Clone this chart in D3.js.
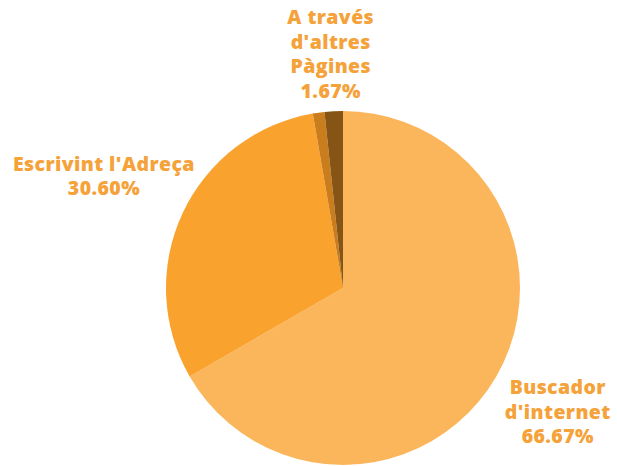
<!DOCTYPE html>
<html>
<head>
<meta charset="utf-8">
<script src="https://cdn.jsdelivr.net/npm/d3@7"></script>
<style>
  html, body { margin: 0; padding: 0; background: #ffffff; }
  svg { display: block; }
</style>
</head>
<body>
<svg id="chart" width="617" height="466"></svg>
<script>
// Data
const categories = ["Buscador d'internet", "Escrivint l'Adreça", "Altres", "A través d'altres Pàgines"];
const values = [66.67, 30.60, 1.06, 1.67];
const labelLines = [
  ["Buscador", "d'internet", "66.67%"],
  ["Escrivint l'Adreça", "30.60%"],
  null,
  ["A través", "d'altres", "Pàgines", "1.67%"]
];
const colors = ["#FBB55B", "#F9A22E", "#C97D1C", "#865516"];

const svg = d3.select("#chart");
const cx = 343, cy = 288, r = 177;
const g = svg.append("g").attr("transform", `translate(${cx},${cy})`);

const data = categories.map((c, i) => ({ cat: c, value: values[i], lines: labelLines[i], color: colors[i] }));
const pie = d3.pie().sort(null).value(d => d.value);
const arc = d3.arc().innerRadius(0).outerRadius(r);
const arcs = pie(data);

g.selectAll("path.slice").data(arcs).join("path")
  .attr("class", "slice")
  .attr("d", arc)
  .attr("fill", d => d.data.color);

const labelRadius = [248, 264, 0, 234];
const lineH = 24.5;
arcs.forEach((a, i) => {
  if (!a.data.lines) return;
  const mid = (a.startAngle + a.endAngle) / 2;
  const lr = labelRadius[i];
  const x = Math.sin(mid) * lr;
  const y = -Math.cos(mid) * lr;
  const n = a.data.lines.length;
  const t = g.append("text")
    .attr("text-anchor", "middle")
    .attr("font-family", "'Open Sans', sans-serif")
    .attr("font-weight", 800)
    .attr("font-size", 19.5)
    .attr("letter-spacing", 0.4)
    .attr("fill", "#F5A23A");
  a.data.lines.forEach((ln, k) => {
    t.append("tspan")
      .attr("x", x)
      .attr("y", y + (k - (n - 1) / 2) * lineH)
      .attr("dy", "0.35em")
      .text(ln);
  });
});
</script>
</body>
</html>
